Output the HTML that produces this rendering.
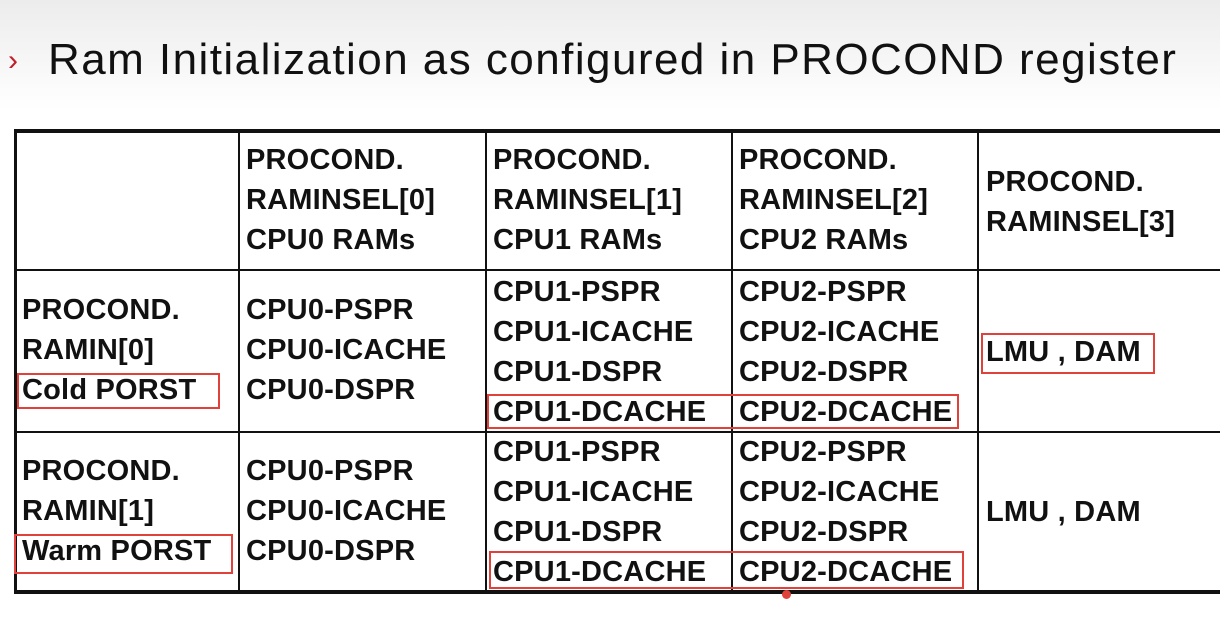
<!DOCTYPE html>
<html><head><style>
body{margin:0;width:1220px;height:618px;overflow:hidden;background:#fff;font-family:"Liberation Sans",Arial,sans-serif;position:relative}
.bg{position:absolute;left:0;top:0;width:1220px;height:110px;background:linear-gradient(#ececec,#fff)}
.t{position:absolute;font-weight:bold;font-size:29px;letter-spacing:0.2px;color:#111;white-space:nowrap;line-height:40px}
.h{position:absolute;background:#111}
.r{position:absolute;border:2px solid #e0413a;box-sizing:border-box}
</style></head><body>
<div class="bg"></div>
<div style="position:absolute;left:8px;top:44px;color:#c0202a;font-size:30px">›</div>
<div style="position:absolute;left:48px;top:35px;font-size:44px;color:#111;white-space:nowrap;letter-spacing:1.45px">Ram Initialization as configured in PROCOND register</div>
<!-- lines -->
<div class="h" style="left:14px;top:129px;width:1206px;height:4px"></div>
<div class="h" style="left:14px;top:269px;width:1206px;height:2px"></div>
<div class="h" style="left:14px;top:431px;width:1206px;height:2px"></div>
<div class="h" style="left:14px;top:590px;width:1206px;height:4px"></div>
<div class="h" style="left:14px;top:129px;width:3px;height:465px"></div>
<div class="h" style="left:238px;top:129px;width:2px;height:465px"></div>
<div class="h" style="left:485px;top:129px;width:2px;height:465px"></div>
<div class="h" style="left:731px;top:129px;width:2px;height:465px"></div>
<div class="h" style="left:977px;top:129px;width:2px;height:465px"></div>
<!-- header -->
<div class="t" style="left:246px;top:140px">PROCOND.<br>RAMINSEL[0]<br>CPU0 RAMs</div>
<div class="t" style="left:493px;top:140px">PROCOND.<br>RAMINSEL[1]<br>CPU1 RAMs</div>
<div class="t" style="left:739px;top:140px">PROCOND.<br>RAMINSEL[2]<br>CPU2 RAMs</div>
<div class="t" style="left:986px;top:162px">PROCOND.<br>RAMINSEL[3]</div>
<!-- row1 -->
<div class="t" style="left:22px;top:290px">PROCOND.<br>RAMIN[0]<br>Cold PORST</div>
<div class="t" style="left:246px;top:290px">CPU0-PSPR<br>CPU0-ICACHE<br>CPU0-DSPR</div>
<div class="t" style="left:493px;top:272px">CPU1-PSPR<br>CPU1-ICACHE<br>CPU1-DSPR<br>CPU1-DCACHE</div>
<div class="t" style="left:739px;top:272px">CPU2-PSPR<br>CPU2-ICACHE<br>CPU2-DSPR<br>CPU2-DCACHE</div>
<div class="t" style="left:986px;top:332px">LMU , DAM</div>
<!-- row2 -->
<div class="t" style="left:22px;top:451px">PROCOND.<br>RAMIN[1]<br>Warm PORST</div>
<div class="t" style="left:246px;top:451px">CPU0-PSPR<br>CPU0-ICACHE<br>CPU0-DSPR</div>
<div class="t" style="left:493px;top:432px">CPU1-PSPR<br>CPU1-ICACHE<br>CPU1-DSPR<br>CPU1-DCACHE</div>
<div class="t" style="left:739px;top:432px">CPU2-PSPR<br>CPU2-ICACHE<br>CPU2-DSPR<br>CPU2-DCACHE</div>
<div class="t" style="left:986px;top:492px">LMU , DAM</div>
<!-- red boxes -->
<div class="r" style="left:17px;top:373px;width:203px;height:36px"></div>
<div class="r" style="left:14px;top:534px;width:219px;height:40px"></div>
<div class="r" style="left:487px;top:394px;width:472px;height:35px"></div>
<div class="r" style="left:489px;top:551px;width:475px;height:38px"></div>
<div class="r" style="left:981px;top:333px;width:174px;height:41px"></div>
<div style="position:absolute;left:782px;top:590px;width:9px;height:9px;border-radius:50%;background:#e0413a"></div>
</body></html>
